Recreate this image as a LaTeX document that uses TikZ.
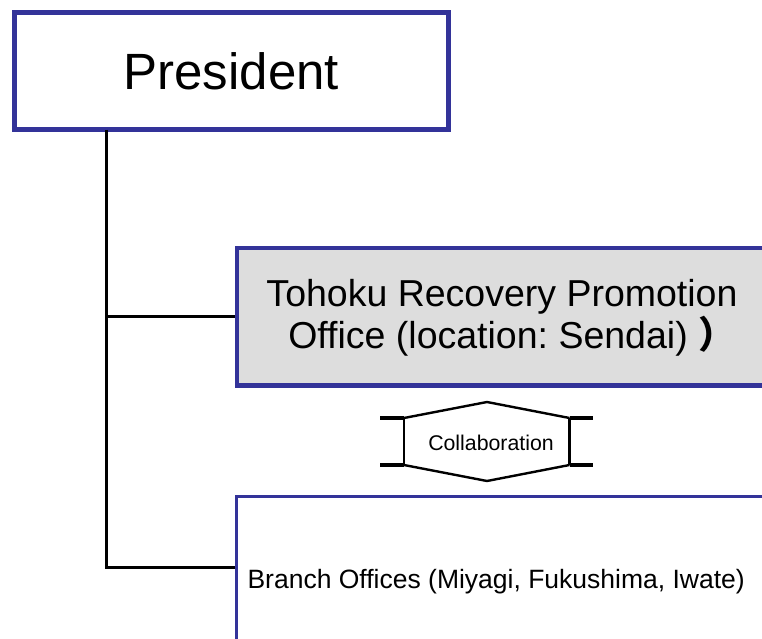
\documentclass[tikz,border=0pt]{standalone}
\usepackage{fontspec}
\setmainfont{Liberation Sans}
\newfontfamily\cjk{Noto Sans CJK JP}
\frenchspacing
\definecolor{frameblue}{RGB}{51,51,153}
\definecolor{boxgray}{RGB}{221,221,221}
\tikzset{
  x=1pt, y=-1pt,
  frame/.style={draw=frameblue, rectangle, inner sep=0pt, anchor=north west},
  conn/.style={draw=black, line width=3.2pt},
  bar/.style={line width=4.5pt},
  side/.style={line width=2.8pt},
  slope/.style={line width=2.4pt, line join=miter},
}
\begin{document}
\begin{tikzpicture}
\path[use as bounding box] (0,0) rectangle (762,639);
\clip (0,0) rectangle (762,639);
\fill[white] (0,0) rectangle (762,639);

% President box
\node[frame, line width=5pt, minimum width=433.5pt, minimum height=117.5pt,
      font=\fontsize{51}{58}\selectfont] (pres) at (12,10) {President};

% Tohoku box
\node[frame, line width=4.5pt, fill=boxgray, minimum width=540pt, minimum height=137.5pt]
  (tohoku) at (234.5,245.5) {};
\node[font=\fontsize{37.5}{42}\selectfont, align=center] (tohokutext) at (502,318)
  {Tohoku Recovery Promotion\\\hspace*{20pt}Office (location: Sendai) {\cjk\bfseries ）}};

% Branch box
\node[frame, line width=3pt, minimum width=540pt, minimum height=146pt]
  (branch) at (234.5,495) {};
\node[font=\fontsize{26.5}{30}\selectfont, anchor=west] (branchtext) at (244,582)
  {Branch Offices (Miyagi, Fukushima, Iwate)};

% Connectors
\coordinate (trunk) at (106.5,130);
\coordinate (jb) at (106.5,567.5);
\draw[conn] (trunk) |- (tohoku.west);
\draw[conn] (trunk) -- (jb) -- (jb -| branch.west);

% Collaboration double arrow
\node[font=\fontsize{21.3}{24}\selectfont] (collab) at (491,443) {Collaboration};
\coordinate (tl) at (404,418);
\coordinate (tr) at (569.5,418);
\coordinate (bl) at (404,465);
\coordinate (br) at (569.5,465);
\draw[bar] (380,418) -- (tl);
\draw[bar] (tr) -- (593,418);
\draw[bar] (380,465) -- (bl);
\draw[bar] (br) -- (593,465);
\draw[side] (tl) -- (bl);
\draw[side] (tr) -- (br);
\draw[slope] (tl) -- (487,402) -- (tr);
\draw[slope] (bl) -- (487,481) -- (br);
\end{tikzpicture}
\end{document}
